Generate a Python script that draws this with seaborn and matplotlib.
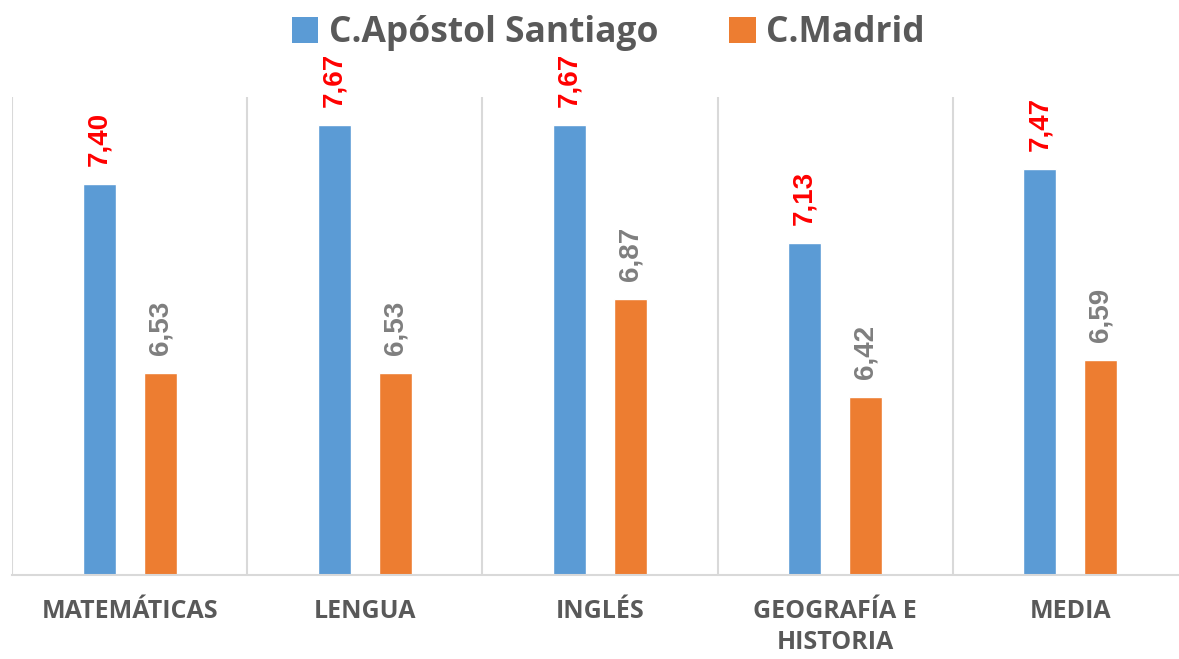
import matplotlib
matplotlib.use("Agg")
import matplotlib.pyplot as plt
import pandas as pd
import seaborn as sns
from matplotlib.patches import Patch

# data
subjects = ["MATEMÁTICAS", "LENGUA", "INGLÉS", "GEOGRAFÍA E\nHISTORIA", "MEDIA"]
santiago = [7.40, 7.67, 7.67, 7.13, 7.47]
madrid = [6.53, 6.53, 6.87, 6.42, 6.59]
series = ["C.Apóstol Santiago", "C.Madrid"]

BLUE = "#5B9BD5"
ORANGE = "#ED7D31"
GRID = "#D9D9D9"
TEXT = "#595959"

df = pd.DataFrame({
    "subject": subjects * 2,
    "centro": [series[0]] * len(subjects) + [series[1]] * len(subjects),
    "nota": santiago + madrid,
})

sns.set_style("white")
plt.rcParams["font.family"] = ["Open Sans", "DejaVu Sans"]

fig = plt.figure(figsize=(11.79, 6.59), dpi=100)
ax = fig.add_axes([12 / 1179, 1 - 575 / 659, 1176 / 1179, 478 / 659])

sns.barplot(data=df, x="subject", y="nota", hue="centro", order=subjects,
            hue_order=series, palette=[BLUE, ORANGE], width=0.52, gap=0.46,
            errorbar=None, saturation=1, ax=ax, legend=False)

ax.set_ylim(5.6, 7.8)
ax.set_xlim(-0.5, len(subjects) - 0.5)
for x in range(len(subjects) + 1):
    ax.axvline(x - 0.5, color=GRID, linewidth=1.5, zorder=0)

for cont, vals, col in zip(ax.containers, [santiago, madrid], ["#FF0000", "#7F7F7F"]):
    ax.bar_label(cont, labels=[f"{v:.2f}".replace(".", ",") for v in vals],
                 padding=13, rotation=90, color=col, fontsize=20,
                 fontweight="bold", family=["Liberation Sans", "DejaVu Sans"])

for s in ["top", "left", "right"]:
    ax.spines[s].set_visible(False)
ax.spines["bottom"].set_color(GRID)
ax.spines["bottom"].set_linewidth(1.5)
ax.set_yticks([])
ax.set_xlabel("")
ax.set_ylabel("")
ax.tick_params(axis="x", length=0, pad=17)
for lab in ax.get_xticklabels():
    lab.set_fontsize(18)
    lab.set_fontweight("bold")
    lab.set_color(TEXT)
    lab.set_linespacing(1.35)
    lab.set_va("top")

handles = [Patch(facecolor=BLUE, edgecolor="none"), Patch(facecolor=ORANGE, edgecolor="none")]
fig.legend(handles, series, loc="center", bbox_to_anchor=(0.516, 1 - 33 / 659), ncol=2,
           frameon=False, handlelength=0.75, handleheight=0.75, handletextpad=0.3,
           columnspacing=2.0, prop={"size": 25.5, "weight": "bold", "family": "Open Sans"},
           labelcolor=TEXT)

fig.savefig("out.png", dpi=100)
